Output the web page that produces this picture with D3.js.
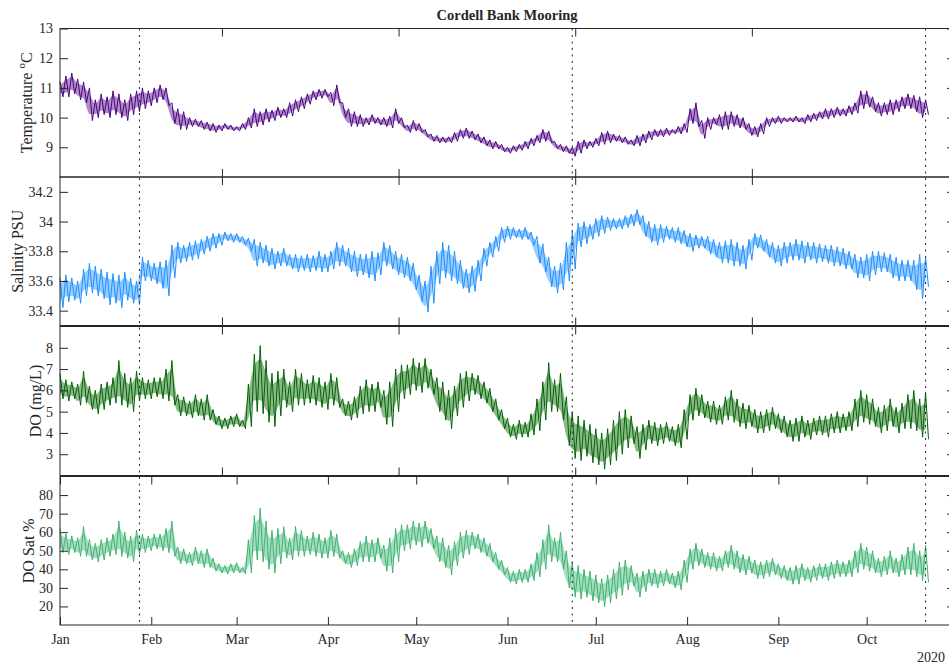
<!DOCTYPE html>
<html><head><meta charset="utf-8">
<script src="https://cdn.jsdelivr.net/npm/d3@7"></script>
<style>
body{margin:0;background:#fff}
svg{display:block}
text{font-family:"Liberation Serif","Times New Roman",serif;fill:#262626}
</style>
</head><body>
<svg id="chart" width="949" height="667"></svg>
<script>
// ---------- data ----------
const startDate = "2020-01-01";      // first sample; samples every 2 days (hi), lo one day later
const endDate = "2020-10-31";        // x axis end
const monthLabels = ["Jan","Feb","Mar","Apr","May","Jun","Jul","Aug","Sep","Oct"];
const monthDates = ["2020-01-01","2020-02-01","2020-03-01","2020-04-01","2020-05-01","2020-06-01","2020-07-01","2020-08-01","2020-09-01","2020-10-01"];
const upperTicks = ["2020-02-25","2020-04-25","2020-06-24","2020-08-23"];
const markerDates = ["2020-01-28","2020-06-23","2020-10-21"];
const yearLabel = "2020";
const title = "Cordell Bank Mooring";

const tempTicks = [9,10,11,12,13];
const salTicks = [33.4,33.6,33.8,34,34.2];
const doTicks = [3,4,5,6,7,8];
const satTicks = [20,30,40,50,60,70,80];

const tempHi = [11.2,11.4,11.5,11.3,11.2,11.0,10.6,10.8,10.7,10.9,
 10.8,10.6,10.8,10.9,11.0,10.9,11.0,11.1,11.0,10.5,
 10.3,10.2,10.0,9.95,9.9,9.85,9.8,9.75,9.8,9.75,
 9.7,9.8,10.0,10.3,10.2,10.3,10.25,10.35,10.3,10.5,
 10.6,10.7,10.8,10.9,10.95,10.95,10.85,11.1,10.5,10.3,
 10.2,10.1,10.0,10.1,10.0,10.0,10.05,10.3,10.0,9.75,
 9.9,9.8,9.6,9.45,9.4,9.35,9.35,9.5,9.6,9.65,
 9.55,9.45,9.35,9.25,9.2,9.1,9.0,9.05,9.1,9.2,
 9.3,9.4,9.6,9.55,9.2,9.1,9.05,9.0,9.2,9.25,
 9.2,9.3,9.5,9.55,9.45,9.4,9.35,9.25,9.4,9.45,
 9.55,9.6,9.6,9.65,9.6,9.7,9.8,10.3,10.5,9.9,
 10.0,10.0,10.1,10.2,10.2,10.1,10.0,9.8,9.7,9.8,
 10.0,10.0,10.05,10.0,10.0,10.05,10.0,10.1,10.15,10.2,
 10.3,10.3,10.35,10.3,10.4,10.5,10.9,10.9,10.7,10.5,
 10.5,10.6,10.6,10.7,10.8,10.75,10.7,10.6];
const tempLo = [10.7,10.7,10.8,10.6,10.5,9.9,10.0,10.1,10.0,10.1,
 10.0,9.9,10.1,10.2,10.3,10.4,10.5,10.6,10.4,9.8,
 9.6,9.6,9.7,9.7,9.6,9.55,9.5,9.55,9.6,9.55,
 9.55,9.6,9.65,9.7,9.75,9.85,9.9,10.0,10.0,10.05,
 10.2,10.3,10.45,10.6,10.65,10.7,10.4,10.5,10.0,9.7,
 9.7,9.7,9.75,9.8,9.75,9.7,9.65,9.8,9.65,9.5,
 9.55,9.5,9.35,9.2,9.15,9.15,9.15,9.2,9.3,9.3,
 9.25,9.15,9.05,8.95,8.95,8.85,8.8,8.85,8.9,8.95,
 9.05,9.15,9.2,9.15,8.95,8.85,8.8,8.7,8.8,8.95,
 9.0,9.05,9.1,9.15,9.2,9.15,9.1,9.05,9.05,9.15,
 9.25,9.35,9.35,9.4,9.45,9.45,9.5,9.8,9.7,9.3,
 9.6,9.75,9.6,9.6,9.7,9.65,9.6,9.4,9.35,9.45,
 9.7,9.8,9.8,9.85,9.85,9.85,9.8,9.85,9.9,9.95,
 9.95,10.0,10.05,10.05,10.1,10.15,10.3,10.35,10.2,10.05,
 10.1,10.1,10.2,10.3,10.3,10.2,10.0,10.1];

const salHi = [33.62,33.64,33.62,33.6,33.68,33.72,33.7,33.68,33.66,33.65,
 33.64,33.66,33.62,33.6,33.76,33.74,33.72,33.73,33.74,33.84,
 33.86,33.84,33.86,33.87,33.88,33.9,33.92,33.92,33.93,33.92,
 33.92,33.9,33.89,33.88,33.86,33.84,33.82,33.8,33.82,33.78,
 33.78,33.77,33.78,33.77,33.8,33.78,33.8,33.86,33.84,33.82,
 33.8,33.78,33.78,33.8,33.79,33.86,33.84,33.8,33.78,33.76,
 33.72,33.64,33.6,33.7,33.8,33.86,33.84,33.8,33.74,33.68,
 33.7,33.74,33.82,33.86,33.9,33.96,33.97,33.96,33.95,33.96,
 33.93,33.9,33.85,33.76,33.7,33.72,33.86,33.93,33.99,34.0,
 33.98,34.02,34.04,34.03,34.02,34.02,34.04,34.05,34.08,34.04,
 34.0,33.98,33.98,33.97,33.96,33.96,33.94,33.92,33.91,33.9,
 33.9,33.88,33.86,33.87,33.88,33.86,33.84,33.88,33.92,33.91,
 33.88,33.86,33.84,33.86,33.86,33.88,33.87,33.86,33.86,33.85,
 33.84,33.84,33.83,33.82,33.8,33.78,33.76,33.78,33.8,33.8,
 33.79,33.78,33.76,33.74,33.74,33.74,33.78,33.76];
const salLo = [33.42,33.46,33.47,33.45,33.5,33.52,33.5,33.48,33.44,33.45,
 33.42,33.47,33.45,33.44,33.6,33.6,33.58,33.55,33.5,33.62,
 33.72,33.73,33.74,33.75,33.78,33.8,33.82,33.84,33.87,33.86,
 33.86,33.84,33.8,33.7,33.72,33.7,33.68,33.7,33.7,33.68,
 33.66,33.67,33.66,33.67,33.66,33.66,33.68,33.7,33.7,33.66,
 33.63,33.64,33.62,33.6,33.64,33.7,33.68,33.64,33.62,33.6,
 33.54,33.46,33.39,33.45,33.58,33.62,33.6,33.58,33.55,33.52,
 33.53,33.6,33.7,33.76,33.8,33.86,33.88,33.89,33.88,33.88,
 33.84,33.72,33.66,33.56,33.52,33.54,33.6,33.68,33.83,33.85,
 33.88,33.9,33.92,33.94,33.95,33.95,33.96,33.97,33.98,33.9,
 33.86,33.84,33.86,33.88,33.86,33.85,33.83,33.8,33.82,33.82,
 33.78,33.76,33.72,33.72,33.7,33.7,33.68,33.74,33.82,33.8,
 33.76,33.72,33.7,33.72,33.74,33.74,33.72,33.74,33.72,33.73,
 33.72,33.7,33.7,33.68,33.68,33.62,33.62,33.6,33.64,33.66,
 33.66,33.62,33.6,33.6,33.6,33.54,33.48,33.56];

const doHi = [6.8,6.5,6.4,6.3,6.9,6.2,6.0,6.3,6.4,6.6,
 7.4,6.8,6.6,6.9,6.6,6.5,6.6,6.6,7.0,7.4,
 5.8,5.7,5.5,5.8,5.6,5.8,5.1,4.8,4.7,4.8,
 4.9,4.6,6.3,7.7,8.1,7.4,6.8,6.9,7.0,6.4,
 7.0,6.8,6.5,6.7,6.6,6.4,6.8,6.6,5.6,5.5,
 5.7,6.2,6.5,6.3,6.4,6.0,6.4,7.0,7.2,7.2,
 7.5,7.3,7.5,7.0,6.6,6.4,6.0,6.2,6.8,6.9,
 6.8,6.7,6.4,6.1,5.6,5.1,4.7,4.4,4.6,4.5,
 4.9,5.6,6.4,7.3,6.5,6.8,5.7,5.0,4.8,4.6,
 4.4,4.2,4.0,4.2,4.6,5.0,5.1,4.8,4.3,4.4,
 4.6,4.5,4.4,4.5,4.3,4.4,5.1,5.8,6.1,5.8,
 5.5,5.5,5.3,5.7,6.0,5.6,5.4,5.3,5.1,5.0,
 5.1,5.2,4.9,4.8,4.6,4.7,4.8,4.6,4.7,4.8,
 4.8,4.9,5.0,4.9,5.0,5.6,6.0,5.8,5.6,5.2,
 5.3,5.6,5.2,5.4,5.8,6.0,5.6,5.9];
const doLo = [5.6,5.5,5.6,5.3,5.4,5.1,4.9,5.1,5.3,5.4,
 5.3,5.2,5.0,5.5,5.6,5.6,5.7,5.6,5.5,5.3,
 4.8,4.8,4.7,4.8,4.6,4.6,4.4,4.2,4.2,4.3,
 4.3,4.2,4.3,5.0,4.9,4.5,4.3,4.8,5.2,5.0,
 5.3,5.3,5.4,5.3,5.2,5.1,5.3,5.2,4.8,4.6,
 4.7,4.9,5.0,5.0,5.2,4.4,4.3,5.0,5.6,5.8,
 6.0,5.9,6.1,5.8,5.0,4.6,4.2,4.8,5.2,5.5,
 5.8,5.6,5.4,5.0,4.6,4.2,3.8,3.7,3.8,3.8,
 3.9,4.1,4.6,5.0,5.0,4.6,3.4,2.8,2.7,2.9,
 2.6,2.5,2.3,2.5,2.7,3.0,3.3,3.5,2.8,3.2,
 3.5,3.4,3.5,3.6,3.4,3.3,3.7,4.6,4.8,4.7,
 4.5,4.4,4.4,4.6,4.5,4.3,4.2,4.3,4.0,4.0,
 4.1,4.2,4.0,3.8,3.6,3.6,3.8,3.7,3.9,3.9,
 3.8,4.0,4.0,4.1,4.1,4.3,4.5,4.4,4.3,4.0,
 4.1,4.3,4.0,4.2,4.2,4.1,3.8,3.7];

const satHi = [62,59,58,57,63,56,54,56,57,59,
 66,60,58,61,59,58,59,59,62,66,
 52,51,49,52,50,51,46,43,42,43,
 43.5,41,56,69,73,66,61,62,63,57,
 63,61,58,60,59,57,61,59,50,49,
 51,55,58,56,57,53,57,62,64,64,
 66,65,66,62,58,57,53,55,60,61,
 60,59,57,54,49,45,41,39,40,40,
 43,49,56,64,57,60,50,44,42,40,
 39,37,35,37,40,44,45,42,38,39,
 40,40,39,40,38,39,45,51,54,51,
 49,49,47,50,53,50,48,47,45,44,
 45,46,43,42,41,42,43,41,42,43,
 43,44,45,44,45,50,54,52,50,46,
 47,50,46,48,52,54,50,53];
const satLo = [49,48,49,47,47,45,44,45,47,48,
 47,46,44,48,49,50,51,50,49,47,
 43,43,42,43,41,41,39,38,37.5,38,
 38,37.5,38,45,44,40,38,43,46,45,
 47,47,48,47,46,46,47,46,43,41,
 42,44,44,44,46,39,38,44,50,51,
 53,52,54,51,44,41,37,42,46,48,
 51,49,47,44,40,37,33,32,33,33,
 34,36,40,44,44,40,30,25,24,25,
 23,22,20,22,24,26,29,31,25,28,
 31,30,31,32,30,29,33,40,42,41,
 40,39,39,41,40,38,37,38,35,35,
 36,37,35,34,32,32,34,33,34,35,
 34,35,36,36,36,38,40,39,38,36,
 37,38,36,37,37,36,34,33];

// ---------- layout ----------
const W = 949, H = 667;
const left = 60, right = 955;
const parse = d3.utcParse("%Y-%m-%d");
const x = d3.scaleUtc().domain([parse(startDate), parse(endDate)]).range([left, right]);

const panels = [
  {hi: tempHi, lo: tempLo, domain: [8,13], ticks: tempTicks, color: "#4B0082", top: 28.5, bottom: 177, label: "temp", lx: 32},
  {hi: salHi, lo: salLo, domain: [33.3,34.3], ticks: salTicks, color: "#1E90FF", top: 177, bottom: 325.5, label: "Salinity PSU", lx: 23},
  {hi: doHi, lo: doLo, domain: [2,9], ticks: doTicks, color: "#006400", top: 326.5, bottom: 475.5, label: "DO (mg/L)", lx: 41},
  {hi: satHi, lo: satLo, domain: [10,90], ticks: satTicks, color: "#3CB371", top: 476.5, bottom: 625, label: "DO Sat %", lx: 34}
];

const svg = d3.select("#chart");
svg.append("rect").attr("width", W).attr("height", H).attr("fill", "#fff");

const t0 = parse(startDate);
panels.forEach((p, k) => {
  const y = d3.scaleLinear().domain(p.domain).range([p.bottom, p.top]);
  const g = svg.append("g");

  // band between the readings (dense tidal core)
  const band = p.hi.map((v, i) => ({t: d3.utcDay.offset(t0, 2 * i), hi: v, lo: p.lo[i]}));
  g.append("path").datum(band)
    .attr("fill", p.color).attr("fill-opacity", 0.45).attr("stroke", "none")
    .attr("d", d3.area().x(d => x(d.t)).y0(d => y(d.lo + (d.hi - d.lo) * 0.2)).y1(d => y(d.hi - (d.hi - d.lo) * 0.2)).curve(d3.curveMonotoneX));

  // series: alternate upper and lower readings
  const pts = [];
  p.hi.forEach((v, i) => {
    pts.push({t: d3.utcDay.offset(t0, 2 * i), v: v});
    pts.push({t: d3.utcDay.offset(t0, 2 * i + 1), v: p.lo[i]});
  });
  g.append("path").datum(pts)
    .attr("fill", "none").attr("stroke", p.color).attr("stroke-width", 1)
    .attr("stroke-linejoin", "round")
    .attr("d", d3.line().x(d => x(d.t)).y(d => y(d.v)));

  // y axes
  const ya = g.append("g").attr("transform", `translate(${left},0)`)
    .call(d3.axisLeft(y).tickValues(p.ticks).tickSizeInner(-8).tickSizeOuter(0).tickPadding(7).tickFormat(d3.format("~g")));
  ya.select(".domain").remove();
  ya.selectAll("text").attr("font-size", 14).style("font-family", '"Liberation Serif",serif').attr("fill", "#262626");
  ya.selectAll("line").attr("stroke", "#262626");
  const yr = g.append("g").attr("transform", `translate(${right},0)`)
    .call(d3.axisRight(y).tickValues(p.ticks).tickSizeInner(-8).tickSizeOuter(0).tickFormat(""));
  yr.select(".domain").remove();
  yr.selectAll("line").attr("stroke", "#262626");

  // x ticks
  const xt = k === 3 ? monthDates.map(parse) : upperTicks.map(parse);
  const xtop = g.append("g").attr("transform", `translate(0,${p.top})`)
    .call(d3.axisTop(x).tickValues(xt).tickSizeInner(-8).tickSizeOuter(0).tickFormat(""));
  xtop.select(".domain").remove();
  xtop.selectAll("line").attr("stroke", "#262626");
  const xb = g.append("g").attr("transform", `translate(0,${p.bottom})`)
    .call(d3.axisBottom(x).tickValues(xt).tickSizeInner(-8).tickSizeOuter(0).tickPadding(9)
      .tickFormat(k === 3 ? ((d, i) => monthLabels[i]) : ""));
  xb.select(".domain").remove();
  xb.selectAll("line").attr("stroke", "#262626");
  xb.selectAll("text").attr("font-size", 14).style("font-family", '"Liberation Serif",serif').attr("fill", "#262626");

  // box
  g.append("rect").attr("x", left).attr("y", p.top).attr("width", right - left).attr("height", p.bottom - p.top)
    .attr("fill", "none").attr("stroke", "#262626").attr("stroke-width", 1);

  // y label
  const cy = (p.top + p.bottom) / 2;
  const lab = svg.append("text").attr("transform", `translate(${p.lx},${cy}) rotate(-90)`)
    .attr("text-anchor", "middle").attr("font-size", 16);
  if (p.label === "temp") {
    lab.append("tspan").text("Temperature ");
    lab.append("tspan").attr("font-size", 11).attr("dy", -7).text("o");
    lab.append("tspan").attr("dy", 7).text("C");
  } else {
    lab.text(p.label);
  }
});

// dotted markers
svg.append("g").selectAll("line").data(markerDates.map(parse)).join("line")
  .attr("x1", d => x(d)).attr("x2", d => x(d))
  .attr("y1", panels[0].top).attr("y2", panels[3].bottom)
  .attr("stroke", "#333").attr("stroke-width", 1.1).attr("stroke-dasharray", "2,4.5");

// title and year
svg.append("text").attr("x", 507).attr("y", 20).attr("text-anchor", "middle")
  .attr("font-size", 14.5).attr("font-weight", "bold").text(title);
svg.append("text").attr("x", 945).attr("y", 662).attr("text-anchor", "end")
  .attr("font-size", 14).text(yearLabel);
</script>
</body></html>
